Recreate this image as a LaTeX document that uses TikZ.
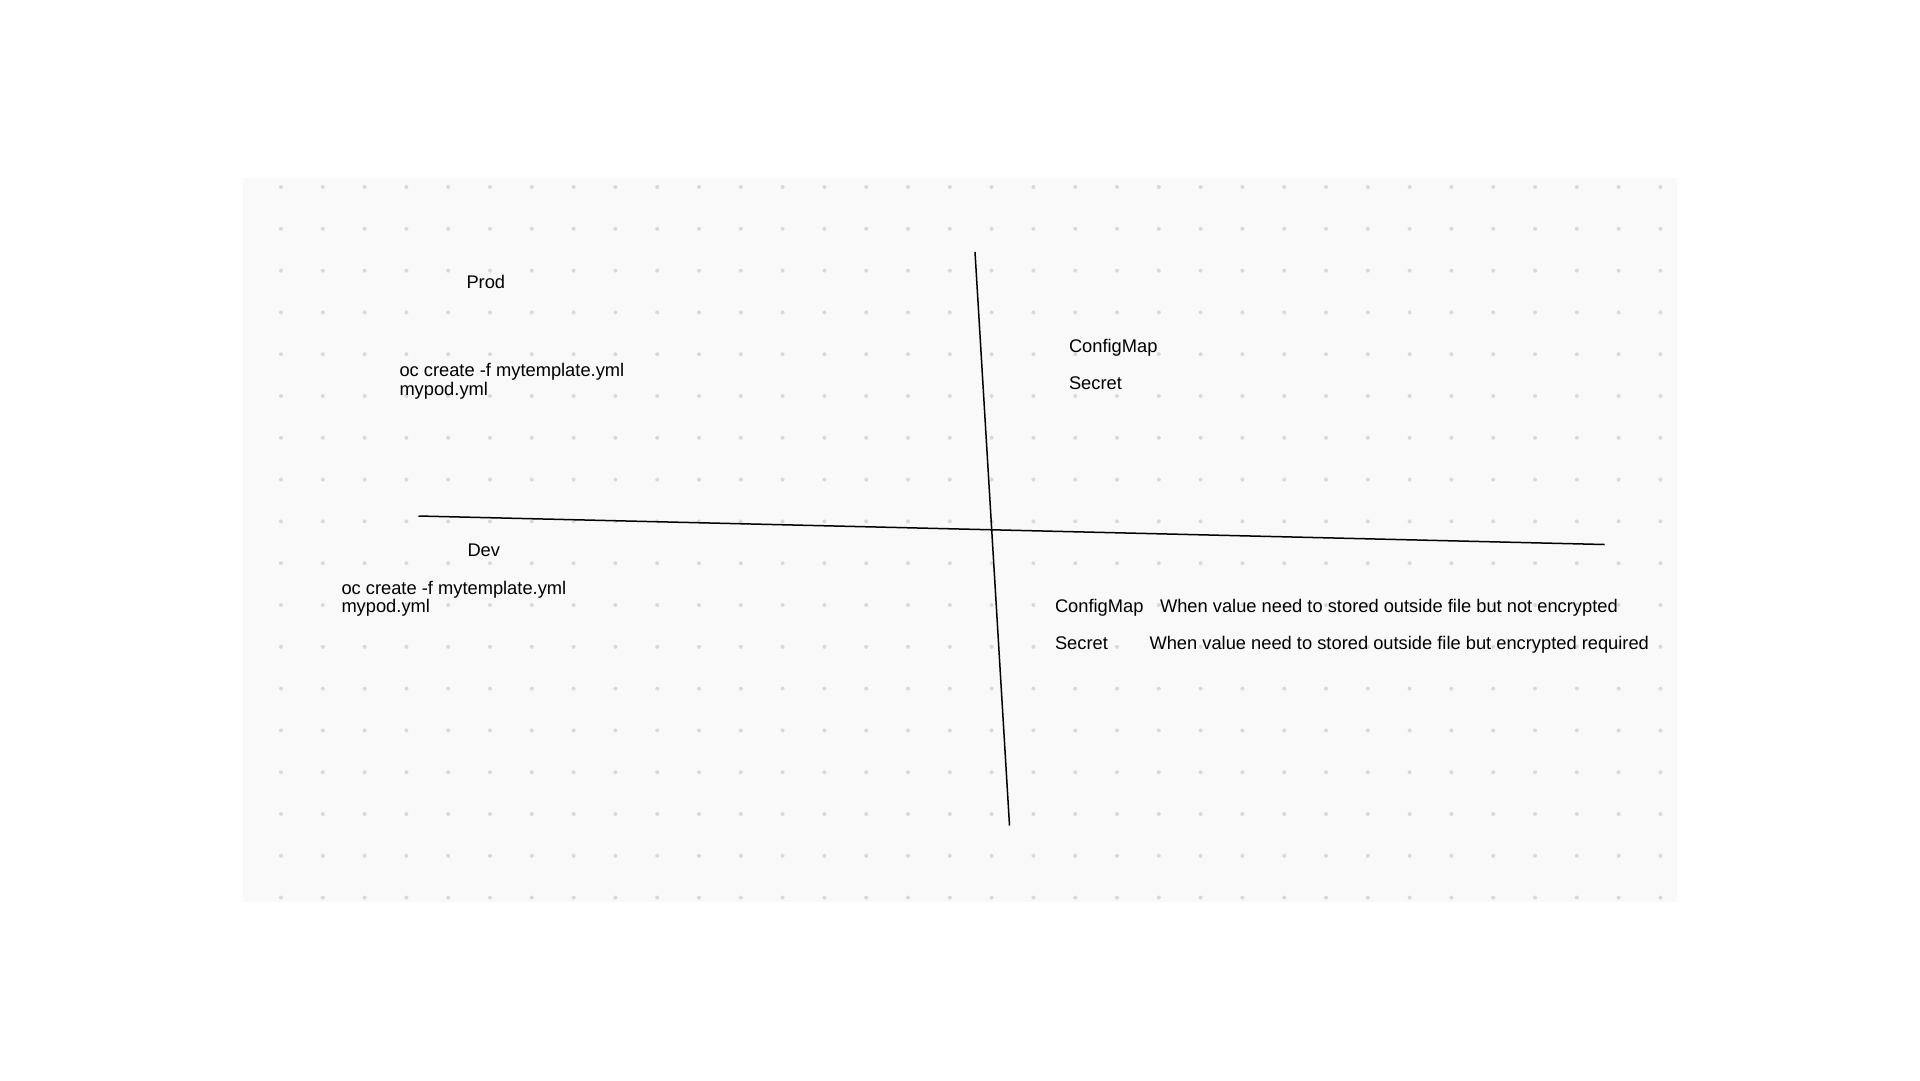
\documentclass[tikz,border=0pt]{standalone}
\usepackage{fontspec}
\setmainfont{Liberation Sans}
\definecolor{bgfill}{HTML}{F9F9F9}
\definecolor{dotgray}{HTML}{D9D9D9}
\tikzset{
  lbl/.style={anchor=base west, inner sep=0pt, outer sep=0pt, align=left,
    font=\fontsize{18.3}{18.4}\selectfont, text=black},
  axis/.style={draw=black, line width=1.5pt}
}
\begin{document}
\begin{tikzpicture}[x=1pt,y=-1pt]
\useasboundingbox (0,0) rectangle (1920,1080);
\fill[white] (0,0) rectangle (1920,1080);
\fill[bgfill] (243,178) rectangle (1677,902);
\begin{scope}
\clip (243,178) rectangle (1677,902);
\foreach \i in {0,...,33}{
  \foreach \j in {0,...,17}{
    \fill[dotgray] ({281+41.8*\i},{187+41.8*\j}) circle (2);
  }
}
\end{scope}
% axes
\coordinate (vtop) at (975,252);
\coordinate (vbot) at (1009.5,825.5);
\coordinate (hleft) at (418.5,516);
\coordinate (hright) at (1604.5,544.5);
\draw[axis] (vtop) -- (vbot);
\draw[axis] (hleft) -- (hright);
% labels (multi-line nodes: base = last line)
\node[lbl] (prod) at (466.5,288) {Prod};
\node[lbl] (prodcmd) at (399.5,395) {oc create -f mytemplate.yml\\mypod.yml};
\node[lbl] (cm1) at (1069,352.5) {ConfigMap};
\node[lbl] (sec1) at (1069,389) {Secret};
\node[lbl] (dev) at (467.5,556.5) {Dev};
\node[lbl] (devcmd) at (341.5,612.5) {oc create -f mytemplate.yml\\mypod.yml};
\node[lbl] (cm2) at (1055,612.5) {ConfigMap};
\node[lbl] (cm2txt) at (1160,612.5) {When value need to stored outside file but not encrypted};
\node[lbl] (sec2) at (1055,649) {Secret};
\node[lbl] (sec2txt) at (1149.5,649) {When value need to stored outside file but encrypted required};
\end{tikzpicture}
\end{document}
